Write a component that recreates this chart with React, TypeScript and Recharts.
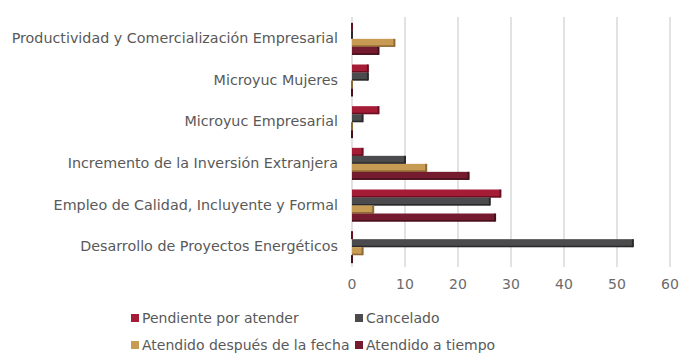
import { BarChart, Bar, XAxis, YAxis, CartesianGrid, Legend } from 'recharts';

const categories = [
  'Productividad y Comercialización Empresarial',
  'Microyuc Mujeres',
  'Microyuc Empresarial',
  'Incremento de la Inversión Extranjera',
  'Empleo de Calidad, Incluyente y Formal',
  'Desarrollo de Proyectos Energéticos',
];

const pendiente = [0, 3, 5, 2, 28, 0];
const cancelado = [0, 3, 2, 10, 26, 53];
const despues = [8, 0, 0, 14, 4, 2];
const aTiempo = [5, 0, 0, 22, 27, 0];

const xTicks = [0, 10, 20, 30, 40, 50, 60];

const series = [
  { key: 'pendiente', name: 'Pendiente por atender', color: '#A51C36', edge: '#6b0f20' },
  { key: 'cancelado', name: 'Cancelado', color: '#4B4B4D', edge: '#2a2a2b' },
  { key: 'despues', name: 'Atendido después de la fecha', color: '#C89B55', edge: '#8d6a33' },
  { key: 'aTiempo', name: 'Atendido a tiempo', color: '#741B30', edge: '#45101c' },
];

const data = categories.map((name, i) => ({
  name,
  pendiente: pendiente[i],
  cancelado: cancelado[i],
  despues: despues[i],
  aTiempo: aTiempo[i],
}));

const FONT = "'DejaVu Sans', sans-serif";

// flat bar with a darker end cap and lower edge for a slight depth effect
function DepthBar(props: any) {
  const { x, y, width, height, fill, edge } = props;
  if (height == null || y == null) return null;
  const w = Math.max(width, 0);
  return (
    <g>
      <rect x={x} y={y} width={w} height={height} fill={fill} />
      <rect x={x} y={y + height - 1.5} width={w} height={1.5} fill={edge} />
      <rect x={x + w - 1} y={y} width={2} height={height} fill={edge} />
    </g>
  );
}

function LegendBox() {
  return (
    <div
      style={{
        display: 'grid',
        gridTemplateColumns: '224px auto',
        rowGap: 9,
        marginLeft: 131,
        paddingTop: 12,
        fontFamily: FONT,
        fontSize: 14,
        color: '#595959',
      }}
    >
      {series.map((s) => (
        <div key={s.key} style={{ display: 'flex', alignItems: 'center', lineHeight: '18px', whiteSpace: 'nowrap' }}>
          <span style={{ width: 8, height: 8, background: s.color, marginRight: 3, display: 'inline-block' }} />
          {s.name}
        </div>
      ))}
    </div>
  );
}

export default function App() {
  return (
    <div style={{ position: 'absolute', left: 0, top: 0, background: '#fff' }}>
      <BarChart
        width={680}
        height={355}
        data={data}
        layout="vertical"
        margin={{ top: 17, right: 10, bottom: 0, left: 0 }}
        barCategoryGap="14%"
        barGap={0}
      >
        <CartesianGrid horizontal={false} stroke="#d9d9d9" strokeWidth={1.5} />
        <XAxis
          type="number"
          domain={[0, 60]}
          ticks={xTicks}
          axisLine={false}
          tickLine={false}
          tickMargin={6}
          height={30}
          tick={{ fill: '#6b6b6b', fontSize: 14, fontFamily: FONT }}
        />
        <YAxis
          type="category"
          dataKey="name"
          width={352}
          axisLine={false}
          tickLine={false}
          tickSize={0}
          tickMargin={14}
          interval={0}
          tick={{ fill: '#595959', fontSize: 14.3, fontFamily: FONT }}
        />
        <Legend verticalAlign="bottom" height={58} content={() => <LegendBox />} />
        {series.map((s) => (
          <Bar
            key={s.key}
            dataKey={s.key}
            name={s.name}
            fill={s.color}
            isAnimationActive={false}
            shape={(p: any) => <DepthBar {...p} fill={s.color} edge={s.edge} />}
          />
        ))}
      </BarChart>
    </div>
  );
}
